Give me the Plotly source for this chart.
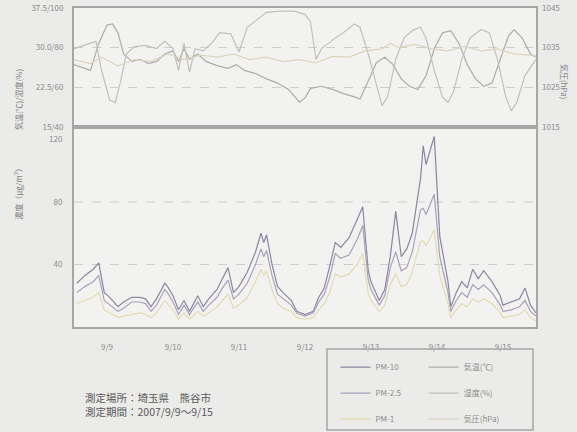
import plotly.graph_objects as go

# ---------------- data (hours from 2007/9/9 0:00) ----------------
pm_hours = [1, 4, 7, 9, 11, 13, 16, 18, 21, 24, 26, 28, 30, 33, 34, 36, 38, 40, 42, 45,
            47, 49, 52, 54, 56, 58, 60, 63, 66, 68, 69, 70, 72, 74, 76, 79, 81, 84, 87, 89,
            91, 93, 95, 97, 100, 103, 105, 107, 108, 111, 113, 115, 117, 119, 121, 123, 126, 127, 128, 131,
            133, 136, 137, 139, 141, 143, 145, 147, 149, 152, 155, 156, 159, 162, 164, 166, 168]
pm10 = [28, 33, 37, 41, 22, 19, 13, 16, 19, 19, 18, 13, 18, 28, 26, 20, 11, 17, 10, 20,
        13, 18, 24, 31, 38, 22, 26, 35, 48, 60, 54, 59, 40, 26, 22, 17, 10, 8, 10, 19,
        25, 39, 54, 51, 57, 69, 77, 36, 29, 17, 24, 45, 74, 45, 50, 60, 95, 116, 104, 122,
        58, 29, 13, 22, 29, 25, 37, 31, 36, 29, 20, 14, 16, 18, 25, 14, 9]
pm25 = [22, 26, 29, 33, 17, 14, 10, 12, 16, 16, 15, 10, 14, 24, 22, 16, 8, 14, 8, 16,
        10, 14, 19, 25, 30, 18, 21, 28, 40, 50, 45, 49, 33, 21, 18, 14, 9, 7, 9, 16,
        21, 32, 47, 44, 46, 56, 65, 30, 24, 14, 20, 38, 48, 36, 38, 48, 75, 76, 72, 85,
        45, 22, 10, 17, 22, 19, 27, 24, 27, 22, 14, 10, 11, 13, 17, 10, 7]
pm1 = [15, 17, 19, 22, 11, 9, 6, 7, 8, 9, 8, 6, 9, 17, 15, 11, 5, 9, 5, 10,
       7, 9, 13, 17, 21, 12, 14, 19, 29, 37, 33, 36, 24, 15, 12, 10, 6, 5, 6, 11,
       15, 22, 34, 32, 34, 40, 47, 21, 17, 10, 14, 27, 34, 26, 27, 35, 55, 55, 52, 62,
       33, 15, 6, 11, 15, 13, 18, 16, 18, 15, 9, 6, 7, 8, 11, 6, 4]

temp_hours = [0, 6, 9, 12, 14, 16, 18, 21, 24, 27, 30, 33, 36, 38, 40, 42, 45, 48, 52, 56,
              59, 62, 66, 70, 74, 78, 82, 84, 86, 90, 94, 98, 102, 104, 107, 110, 113, 116, 119, 122,
              125, 128, 131, 134, 137, 140, 143, 146, 149, 152, 155, 158, 160, 163, 166, 168]
temp = [26.8, 25.7, 30.8, 34.3, 34.5, 32.8, 28.8, 27.4, 27.8, 27.0, 27.4, 28.8, 29.4, 27.4, 29.8, 27.8, 28.8, 27.4, 26.6, 26.1,
        26.8, 25.7, 25.1, 24.1, 23.3, 22.1, 19.7, 20.5, 22.3, 22.7, 22.1, 21.3, 20.7, 20.3, 23.7, 27.2, 28.2, 26.8, 24.1, 22.7,
        22.1, 24.7, 29.8, 32.8, 33.2, 30.8, 26.8, 24.1, 22.7, 23.3, 27.8, 32.2, 33.4, 31.8, 28.8, 28.2]

hum_hours = [0, 6, 8, 10, 13, 15, 17, 19, 22, 26, 30, 33, 36, 38, 40, 42, 44, 47, 50, 53,
             57, 60, 63, 66, 70, 75, 80, 84, 86, 88, 90, 94, 98, 102, 104, 107, 110, 112, 114, 117,
             120, 123, 126, 128, 131, 134, 136, 138, 141, 144, 148, 151, 154, 157, 159, 161, 164, 168]
humidity = [79.5, 82.2, 83.2, 68.6, 53.5, 52.4, 63.2, 76.8, 80.5, 81.1, 79.5, 83.2, 79.5, 68.6, 82.2, 67.6, 79.5, 78.4, 82.2, 87.6,
            87.0, 77.8, 90.3, 93.5, 97.8, 98.4, 98.4, 96.8, 93.0, 74.1, 79.5, 83.8, 87.6, 91.9, 90.3, 76.8, 60.5, 50.8, 55.1, 74.1,
            84.9, 88.6, 90.3, 84.9, 68.6, 55.1, 52.4, 57.8, 74.1, 84.9, 89.2, 87.6, 74.1, 55.1, 48.1, 52.4, 65.9, 74.1]

pres_hours = [0, 6, 10, 16, 22, 28, 34, 40, 46, 52, 58, 64, 70, 76, 82, 88, 94, 100, 106, 112,
              115, 118, 124, 130, 136, 142, 148, 154, 160, 166, 168]
pressure = [1032.0, 1031.0, 1032.6, 1030.4, 1032.0, 1031.5, 1033.4, 1032.0, 1033.1, 1032.6, 1033.4, 1032.0, 1032.6, 1031.5, 1032.0,
            1031.2, 1032.8, 1032.6, 1034.2, 1034.7, 1036.1, 1035.0, 1035.8, 1034.7, 1034.2, 1035.3, 1034.2, 1034.7, 1033.4, 1033.1, 1032.8]

day_tick_hours = [12, 36, 60, 84, 108, 132, 156]
day_tick_labels = ["9/9", "9/10", "9/11", "9/12", "9/13", "9/14", "9/15"]

upper_tickvals = [15, 22.5, 30, 37.5]
upper_ticktext = ["15/40", "22.5/60", "30.0/80", "37.5/100"]
pres_tickvals = [1015, 1025, 1035, 1045]
pm_tickvals = [40, 80, 120]

# ---------------- style ----------------
FONT = "Noto Sans CJK JP"
TICKC = "#8c8c8c"
FRAME = "#a6a6a6"
C_PM10 = "#8a87a0"
C_PM25 = "#aaa0bc"
C_PM1 = "#e4dbb0"
C_TEMP = "#acacac"
C_HUM = "#c0c0c0"
C_PRES = "#dcd3bf"

fig = go.Figure()

# Lower panel
fig.add_trace(go.Scatter(x=pm_hours, y=pm10, mode="lines", name="PM-10", line=dict(color=C_PM10, width=1.2),
                         xaxis="x", yaxis="y", legend="legend", legendgroup="a"))
fig.add_trace(go.Scatter(x=pm_hours, y=pm25, mode="lines", name="PM-2.5", line=dict(color=C_PM25, width=1.2),
                         xaxis="x", yaxis="y", legend="legend", legendgroup="b"))
fig.add_trace(go.Scatter(x=pm_hours, y=pm1, mode="lines", name="PM-1", line=dict(color=C_PM1, width=1.2),
                         xaxis="x", yaxis="y", legend="legend", legendgroup="c"))
# Upper panel
fig.add_trace(go.Scatter(x=temp_hours, y=temp, mode="lines", name="気温(℃)", line=dict(color=C_TEMP, width=1.2),
                         xaxis="x2", yaxis="y2", legend="legend2", legendgroup="d"))
fig.add_trace(go.Scatter(x=hum_hours, y=humidity, mode="lines", name="湿度(%)", line=dict(color=C_HUM, width=1.2),
                         xaxis="x2", yaxis="y3", legend="legend2", legendgroup="e"))
fig.add_trace(go.Scatter(x=pres_hours, y=pressure, mode="lines", name="気圧(hPa)", line=dict(color=C_PRES, width=1.2),
                         xaxis="x2", yaxis="y4", legend="legend2", legendgroup="f"))

split = 0.627
tickfont = dict(family=FONT, size=8, color=TICKC)

fig.update_layout(
    width=577, height=432,
    margin=dict(l=74, r=41, t=8, b=105, autoexpand=False),
    paper_bgcolor="#ebebe9",
    plot_bgcolor="#f2f2f0",
    font=dict(family=FONT, size=8, color=TICKC),
    xaxis=dict(domain=[0, 1], range=[0, 168], anchor="y", tickvals=day_tick_hours, ticktext=day_tick_labels,
               showgrid=False, zeroline=False, showline=True, mirror=True, linecolor=FRAME, linewidth=2,
               ticks="", ticklabelstandoff=11, tickfont=tickfont),
    xaxis2=dict(domain=[0, 1], range=[0, 168], anchor="y2", matches="x", showticklabels=False,
                showgrid=False, zeroline=False, showline=True, mirror=True, linecolor=FRAME, linewidth=2, ticks=""),
    yaxis=dict(domain=[0, split], range=[0, 128], anchor="x", tickvals=pm_tickvals, showgrid=False,
               zeroline=False, showline=True, mirror=True, linecolor=FRAME, linewidth=2, ticks="",
               ticklabelstandoff=8, tickfont=tickfont),
    yaxis2=dict(domain=[split, 1], range=[15, 37.5], anchor="x2", tickvals=upper_tickvals, ticktext=upper_ticktext,
                showgrid=True, gridcolor="#cdcdcd", griddash="dash", gridwidth=1,
                zeroline=False, showline=True, mirror=True, linecolor=FRAME, linewidth=2, ticks="",
                ticklabelstandoff=7, tickfont=tickfont),
    yaxis3=dict(domain=[split, 1], range=[40, 100], overlaying="y2", anchor="x2", visible=False),
    yaxis4=dict(domain=[split, 1], range=[1015, 1045], overlaying="y2", anchor="x2", side="right",
                tickvals=pres_tickvals, showgrid=False, zeroline=False, showline=False, ticks="",
                ticklabelstandoff=5, tickfont=tickfont),
    legend=dict(x=0.566, y=-0.0805, xanchor="left", yanchor="top", bgcolor="rgba(0,0,0,0)",
                font=dict(family=FONT, size=8, color=TICKC), tracegroupgap=7, itemwidth=30),
    legend2=dict(x=0.757, y=-0.0805, xanchor="left", yanchor="top", bgcolor="rgba(0,0,0,0)",
                 font=dict(family=FONT, size=8, color=TICKC), tracegroupgap=7, itemwidth=30),
    showlegend=True,
)

# dashed reference lines in the concentration panel
for v in [40, 80]:
    fig.add_shape(type="line", xref="x domain", yref="y", x0=0, x1=1, y0=v, y1=v,
                  line=dict(color="#cdcdcd", width=1, dash="dash"), layer="below")

# legend frame
fig.add_shape(type="rect", xref="paper", yref="paper", x0=0.5476, x1=0.9935, y0=-0.323, y1=-0.069,
              line=dict(color=FRAME, width=1.5), fillcolor="rgba(0,0,0,0)")

# axis titles
fig.add_annotation(text="気温(℃)/湿度(%)", xref="paper", yref="paper", x=-0.135, y=(split + 1) / 2,
                   textangle=-90, showarrow=False, font=dict(family=FONT, size=8, color="#808080"))
fig.add_annotation(text="濃度（μg/m³）", xref="paper", yref="paper", x=-0.135, y=0.33,
                   textangle=-90, showarrow=False, font=dict(family=FONT, size=8, color="#808080"))
fig.add_annotation(text="気圧(hPa)", xref="paper", yref="paper", x=1.0765, y=0.83,
                   textangle=90, showarrow=False, font=dict(family=FONT, size=8, color="#808080"))

# notes
fig.add_annotation(text="測定場所：埼玉県　熊谷市<br>測定期間：2007/9/9～9/15", xref="paper", yref="paper",
                   x=0.02, y=-0.244, xanchor="left", yanchor="middle", align="left", showarrow=False,
                   font=dict(family=FONT, size=10.5, color="#5a5a5a"))

fig.write_html("out.html", config={"displayModeBar": False},
               post_script="document.body.style.margin='0';document.body.style.overflow='hidden';")
